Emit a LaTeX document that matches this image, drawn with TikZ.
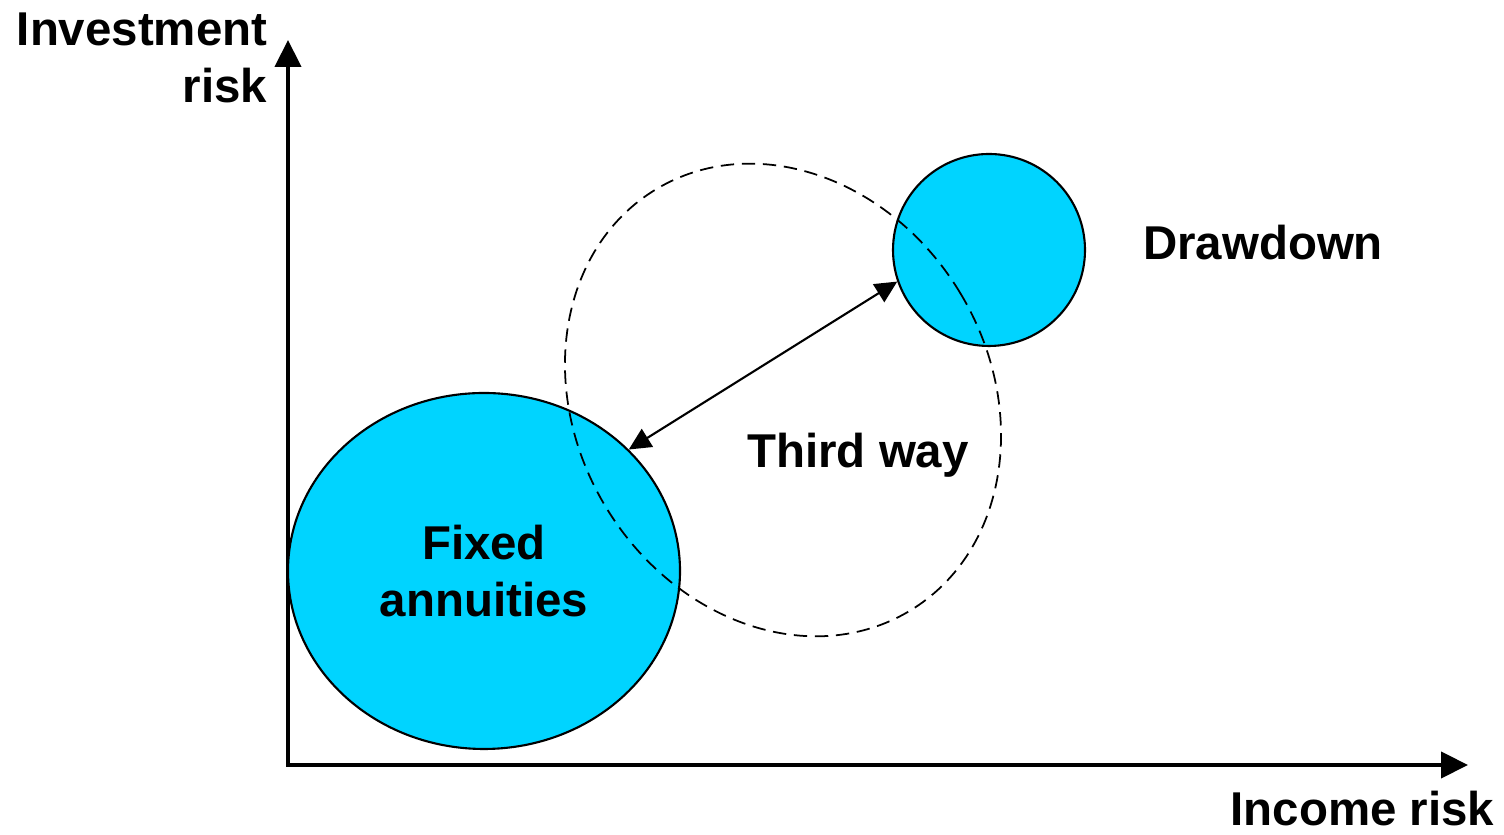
\documentclass[tikz,border=0pt]{standalone}
\usepackage{fontspec}
\setmainfont{Liberation Sans}
\usetikzlibrary{shapes.geometric, arrows.meta, positioning}
\definecolor{zonefill}{RGB}{0,212,255}
\tikzset{
    axis/.style={
        draw=black, line width=1.2pt, line join=miter,
        {Triangle[length=0.27cm, width=0.26cm]}-{Triangle[length=0.27cm, width=0.26cm]}
    },
    zone/.style={
        ellipse, draw=black, line width=0.6pt, fill=zonefill, inner sep=0pt
    },
    hybridzone/.style={
        ellipse, draw=black, line width=0.5pt, dash pattern=on 3.8pt off 2.2pt, inner sep=0pt
    },
    tradeoff/.style={
        draw=black, line width=0.6pt,
        {Triangle[length=0.22cm, width=0.21cm]}-{Triangle[length=0.22cm, width=0.21cm]}
    },
    labeltext/.style={
        font=\fontsize{13.5}{16.2}\selectfont\bfseries, inner sep=0pt, align=center
    }
}

\begin{document}
\begin{tikzpicture}
\useasboundingbox (0,0) rectangle (15.04,8.35);

% Axes
\coordinate (yend) at (2.88,7.95);
\coordinate (xend) at (14.68,0.70);
\draw[axis] (yend) |- (xend);

% Zones
\node[zone, labeltext, minimum width=3.92cm, minimum height=3.56cm] (fixed) at (4.84,2.64) {Fixed\\annuities};
\node[zone, circle, minimum size=1.92cm] (drawdown) at (9.89,5.85) {};
\node[hybridzone, rotate=31, minimum width=4.14cm, minimum height=4.92cm] (thirdway) at (7.83,4.35) {};

% Labels
\node[labeltext] (drawdownlabel) at (12.63,5.92) {Drawdown};
\node[labeltext] (thirdlabel) at (8.58,3.80) {Third way};
\node[labeltext, anchor=north east, align=right] (ylabel) at (2.68,8.23) {Investment\\risk};
\node[labeltext, anchor=north east] (xlabel) at (14.95,0.45) {Income risk};

% Trade-off between the two products
\draw[tradeoff] (fixed.40) -- (drawdown.199);

\end{tikzpicture}
\end{document}
